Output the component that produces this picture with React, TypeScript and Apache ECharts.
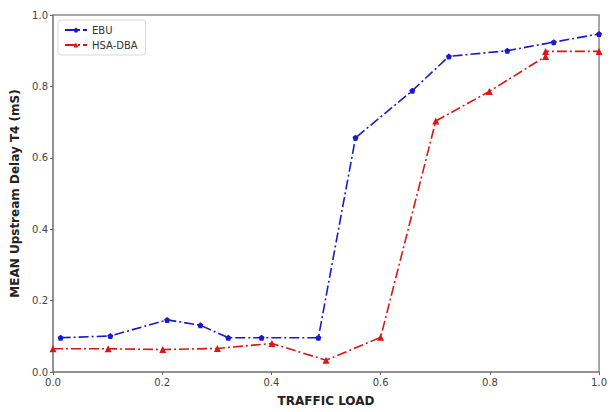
import React, { useEffect, useRef } from "react";
import * as echarts from "echarts";

const ebuLoad = [0.014, 0.105, 0.209, 0.27, 0.321, 0.382, 0.486, 0.554, 0.658, 0.725, 0.832, 0.917, 1.0];
const ebuDelay = [0.096, 0.101, 0.146, 0.131, 0.096, 0.096, 0.096, 0.656, 0.788, 0.884, 0.9, 0.924, 0.947];
const hsaLoad = [0.0, 0.101, 0.201, 0.301, 0.401, 0.5, 0.6, 0.701, 0.799, 0.902, 0.902, 1.0];
const hsaDelay = [0.065, 0.065, 0.063, 0.066, 0.08, 0.033, 0.097, 0.703, 0.786, 0.884, 0.898, 0.898];
const seriesNames = ["EBU", "HSA-DBA"];

const pentagon = "path://M0,-1 L0.951,-0.309 L0.588,0.809 L-0.588,0.809 L-0.951,-0.309 Z";

export default function App() {
  const ref = useRef<HTMLDivElement>(null);
  useEffect(() => {
    if (!ref.current) return;
    const chart = echarts.init(ref.current, undefined, { renderer: "svg" });
    const font = "DejaVu Sans";
    chart.setOption({
      animation: false,
      backgroundColor: "#fff",
      grid: { left: 53, right: 5, top: 15, bottom: 36, show: true, borderColor: "#8a8a8a", borderWidth: 1.5, backgroundColor: "transparent" },
      legend: {
        left: 58, top: 20, orient: "vertical", itemGap: 5,
        backgroundColor: "#fff", borderColor: "#d8d8d8", borderWidth: 1, borderRadius: 3, padding: [5, 8, 5, 6],
        textStyle: { fontFamily: font, fontSize: 10, color: "#333" },
        itemWidth: 22, itemHeight: 6,
        data: seriesNames,
      },
      xAxis: {
        type: "value", min: 0, max: 1, interval: 0.2,
        name: "TRAFFIC LOAD", nameLocation: "middle", nameGap: 23,
        nameTextStyle: { fontFamily: font, fontSize: 12, fontWeight: "bold", color: "#222" },
        axisLine: { show: true, lineStyle: { color: "#8a8a8a", width: 1.5 } },
        axisTick: { show: true, length: 3, lineStyle: { color: "#666" } },
        axisLabel: { fontFamily: font, fontSize: 10, color: "#444", margin: 5, formatter: (v: number) => v.toFixed(1) },
        splitLine: { show: false },
      },
      yAxis: {
        type: "value", min: 0, max: 1, interval: 0.2,
        name: "MEAN Upstream Delay T4 (mS)", nameLocation: "middle", nameGap: 30,
        nameTextStyle: { fontFamily: font, fontSize: 12, fontWeight: "bold", color: "#222" },
        axisLine: { show: true, lineStyle: { color: "#8a8a8a", width: 1.5 } },
        axisTick: { show: true, length: 3, lineStyle: { color: "#666" } },
        axisLabel: { fontFamily: font, fontSize: 10, color: "#444", margin: 5, formatter: (v: number) => v.toFixed(1) },
        splitLine: { show: false },
      },
      series: [
        {
          name: seriesNames[0], type: "line",
          data: ebuLoad.map((x, i) => [x, ebuDelay[i]]),
          symbol: pentagon, symbolSize: 6, showSymbol: true,
          itemStyle: { color: "#1a1acc" },
          lineStyle: { color: "#1a1acc", width: 1.6, type: [10, 3, 2, 3] },
        },
        {
          name: seriesNames[1], type: "line",
          data: hsaLoad.map((x, i) => [x, hsaDelay[i]]),
          symbol: "triangle", symbolSize: 7, showSymbol: true,
          itemStyle: { color: "#dd1515" },
          lineStyle: { color: "#dd1515", width: 1.6, type: [10, 3, 2, 3] },
        },
      ],
    });
    return () => chart.dispose();
  }, []);
  return <div ref={ref} style={{ width: 610, height: 412, position: "fixed", left: 0, top: 0 }} />;
}
